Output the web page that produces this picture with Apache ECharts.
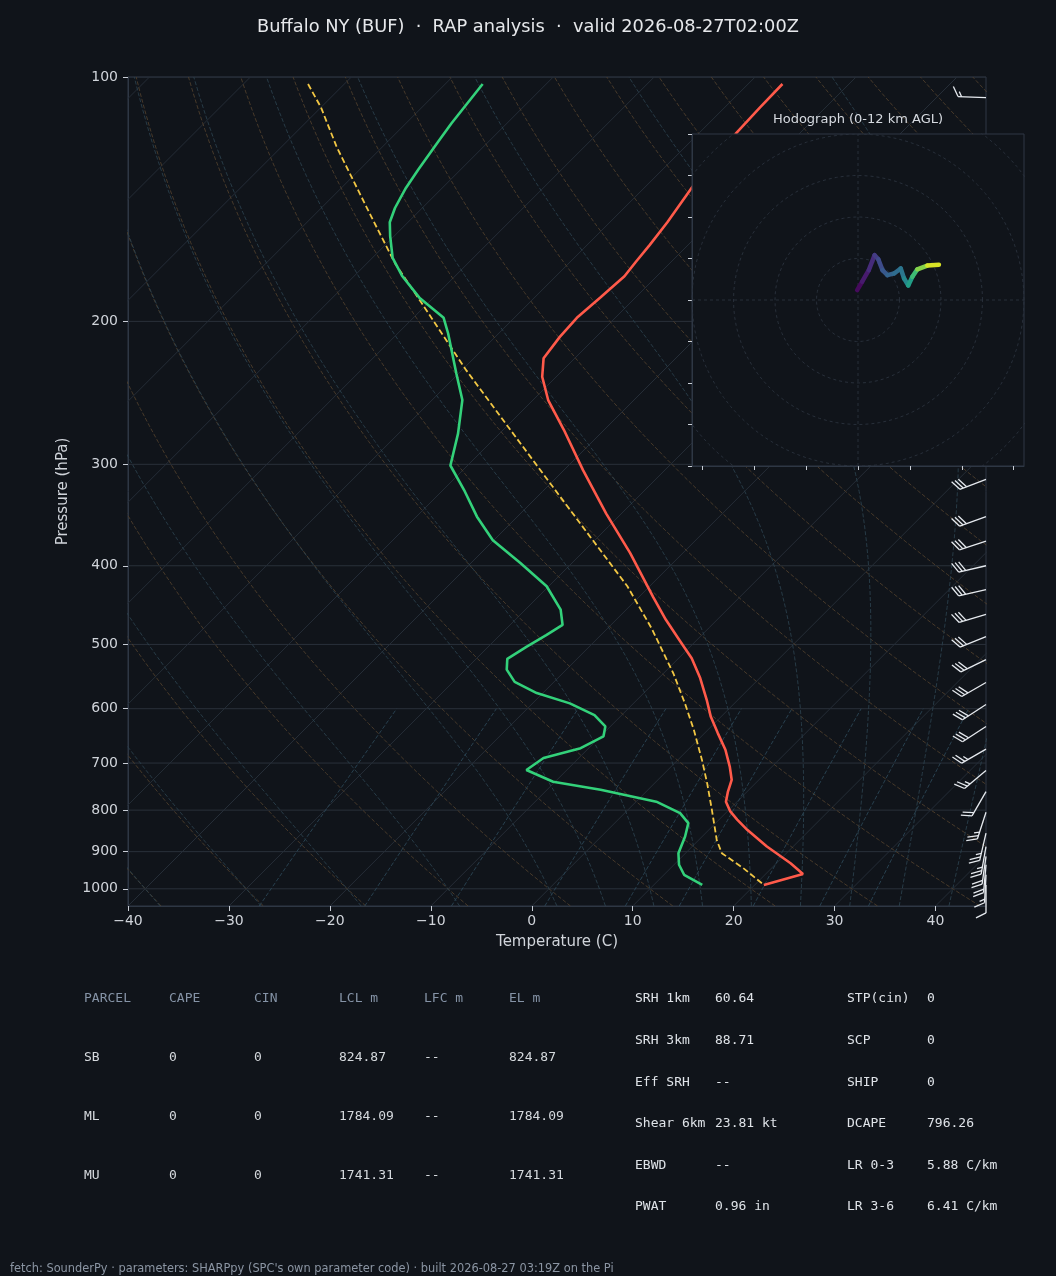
<!DOCTYPE html>
<html>
<head>
<meta charset="UTF-8">
<title>Skew-T - Buffalo NY (BUF)</title>
<script src="https://cdn.jsdelivr.net/npm/echarts@6/dist/echarts.min.js"></script>
<style>
  html, body { margin: 0; padding: 0; background: #10141a; }
  #main { width: 1056px; height: 1276px; }
</style>
</head>
<body>
<div id="main"></div>
<script>
// ---- sounding profile (hPa / degC) ----
const tempP = [102, 109, 118, 127, 137, 151, 161, 169, 176, 187, 198, 209, 222, 234, 250, 272, 305, 345, 386, 437,
               466, 494, 520, 550, 585, 614, 643, 674, 707, 734, 759, 781, 803, 822, 846, 887, 930, 959, 989];
const tempT = [-56.6, -56.5, -56.3, -56.0, -55.3, -54.3, -53.8, -53.5, -53.2, -53.5, -53.8, -53.6, -53.1, -51.4, -48.5, -44.0, -38.1, -31.5, -25.2, -18.6,
               -15.1, -11.7, -8.7, -5.9, -3.1, -1.0, 1.3, 3.7, 5.8, 7.3, 8.1, 8.9, 10.3, 11.8, 13.8, 17.4, 21.4, 23.7, 20.9];

const dewP = [102, 114, 120, 130, 137, 145, 151, 157, 167, 176, 187, 198, 207, 232, 250, 275, 301, 324, 348, 372,
              397, 424, 453, 473, 487, 503, 521, 537, 556, 574, 591, 611, 631, 649, 671, 690, 714, 738, 755, 781,
              807, 830, 862, 904, 934, 961, 989];
const dewT = [-86.3, -85.5, -85.0, -84.2, -83.6, -82.7, -81.8, -80.4, -78.0, -75.2, -71.4, -67.0, -65.0, -60.2, -57.0, -54.1, -51.7, -47.7, -44.0, -40.1,
              -35.1, -30.2, -26.5, -24.8, -25.4, -26.2, -26.9, -25.9, -23.9, -20.6, -16.3, -12.7, -10.5, -9.7, -10.8, -13.5, -14.0, -10.2, -4.7, 2.0,
              5.5, 7.3, 8.3, 9.3, 10.5, 12.0, 14.8];

const parcelP = [102, 109, 122, 134, 150, 170, 190, 230, 272, 320, 372, 424, 478, 543, 591, 637, 694, 741, 799, 871, 904, 943, 989];
const parcelT = [-103.6, -100.0, -94.5, -89.6, -83.7, -77.1, -70.6, -59.5, -49.3, -39.4, -30.2, -22.2, -15.6, -9.0, -4.9, -1.4, 2.4, 5.2, 8.3, 11.8, 13.6, 17.2, 20.9];

// wind barbs: pressure, direction (deg from), speed (kt)
const barbP   = [106, 313, 348, 373, 400, 428, 459, 489, 522, 557, 593, 631, 673, 715, 759, 805, 854, 887, 912, 934, 961, 989];
const barbDir = [272, 249, 250, 252, 257, 257, 253, 248, 244, 240, 237, 237, 240, 230, 210, 198, 193, 190, 188, 185, 183, 180];
const barbKt  = [15, 30, 30, 30, 30, 30, 30, 30, 30, 30, 30, 30, 25, 25, 20, 25, 25, 25, 20, 20, 15, 10];

// hodograph (u, v) with height km
const hodoU = [-0.2, 1.0, 2.6, 4.0, 4.9, 5.9, 7.1, 8.7, 10.3, 11.1, 12.1, 13.1, 14.3, 16.7, 19.5];
const hodoV = [2.4, 4.4, 7.2, 10.8, 9.8, 7.2, 6.0, 6.4, 7.6, 5.2, 3.5, 5.6, 7.4, 8.3, 8.5];
const hodoZ = [0, 0.6, 1.2, 1.8, 2.4, 3.0, 3.6, 4.0, 4.4, 5.0, 6.0, 7.4, 9.0, 10.6, 12.0];

// ticks
const pTicks = [100, 200, 300, 400, 500, 600, 700, 800, 900, 1000];
const tTicks = [-40, -30, -20, -10, 0, 10, 20, 30, 40];
const hodoXTicks = [-37.5, -25, -12.5, 0, 12.5, 25, 37.5];
const hodoRings = [10, 20, 30, 40, 50];
const mixRatios = [0.0004, 0.001, 0.002, 0.004, 0.007, 0.01, 0.016, 0.024, 0.032];
const moistStarts = [-40, -30, -20, -10, 0, 5, 10, 15, 20, 25, 30, 35, 40, 45];

// parameter table
const parcelHead = ['PARCEL', 'CAPE', 'CIN', 'LCL m', 'LFC m', 'EL m'];
const parcelRows = [
  ['SB', '0', '0', '824.87', '--', '824.87'],
  ['ML', '0', '0', '1784.09', '--', '1784.09'],
  ['MU', '0', '0', '1741.31', '--', '1741.31']
];
const paramsA = [['SRH 1km', '60.64'], ['SRH 3km', '88.71'], ['Eff SRH', '--'], ['Shear 6km', '23.81 kt'], ['EBWD', '--'], ['PWAT', '0.96 in']];
const paramsB = [['STP(cin)', '0'], ['SCP', '0'], ['SHIP', '0'], ['DCAPE', '796.26'], ['LR 0-3', '5.88 C/km'], ['LR 3-6', '6.41 C/km']];

const titleText = 'Buffalo NY (BUF)  \u00b7  RAP analysis  \u00b7  valid 2026-08-27T02:00Z';
const footerText = "fetch: SounderPy \u00b7 parameters: SHARPpy (SPC's own parameter code) \u00b7 built 2026-08-27 03:19Z on the Pi";

// ---- layout ----
const PMIN = 100, PMAX = 1050, TMIN = -40, TMAX = 45;
const GRID = { left: 128, top: 77, width: 858, height: 829 };
const INSET = { left: 692, top: 134, width: 332, height: 332 };
// 45 degree isotherms: degC shift per decade of pressure
const K = (GRID.height / Math.log10(PMAX / PMIN)) / (GRID.width / (TMAX - TMIN));
const skew = (t, p) => [t + K * Math.log10(PMAX / p), p];

const BG = '#10141a';
const FRAME = '#2e3744';
const TXT = '#d0d4da';
const FONT = '"DejaVu Sans", sans-serif';
const MONO = '"DejaVu Sans Mono", monospace';

// pressure levels for background curves
const pLevels = [];
for (let i = 0; i <= 50; i++) pLevels.push(PMAX * Math.pow(PMIN / PMAX, i / 50));

// thermodynamics for reference lines
const Rd = 287.04749, Cp = 1004.6662, Lv = 2.50084e6, EPS = 0.621957;
function satVap(tK) { return 6.112 * Math.exp(17.67 * (tK - 273.15) / (tK - 29.65)); }
function moistSlope(tK, p) {
  const es = satVap(tK);
  const rs = EPS * es / Math.max(p - es, 1e-3);
  return (Rd * tK + Lv * rs) / (Cp + Lv * Lv * rs * EPS / (Rd * tK * tK));
}
function moistT(t0, p) {
  let T = t0 + 273.15, lp = Math.log(1000);
  const n = 40, h = (Math.log(p) - lp) / n;
  for (let i = 0; i < n; i++) {
    const pp = Math.exp(lp);
    const k1 = moistSlope(T, pp);
    const k2 = moistSlope(T + h * k1 / 2, Math.exp(lp + h / 2));
    const k3 = moistSlope(T + h * k2 / 2, Math.exp(lp + h / 2));
    const k4 = moistSlope(T + h * k3, Math.exp(lp + h));
    T += h * (k1 + 2 * k2 + 2 * k3 + k4) / 6;
    lp += h;
  }
  return T - 273.15;
}
function dewFromMix(w, p) {
  const e = p * w / (EPS + w);
  const l = Math.log(e / 6.112);
  return 243.5 * l / (17.67 - l);
}

const VIRIDIS = ['#440154', '#482475', '#414487', '#355f8d', '#2a788e', '#21918c', '#22a884', '#44bf70', '#7ad151', '#bddf26', '#fde725'];
function viridis(f) {
  f = Math.max(0, Math.min(1, f));
  const x = f * (VIRIDIS.length - 1);
  const i = Math.min(Math.floor(x), VIRIDIS.length - 2);
  const t = x - i;
  const a = VIRIDIS[i], b = VIRIDIS[i + 1];
  const c = [1, 3, 5].map(k => Math.round(parseInt(a.substr(k, 2), 16) * (1 - t) + parseInt(b.substr(k, 2), 16) * t));
  return 'rgb(' + c.join(',') + ')';
}

const series = [];
function refLine(data, color, type, width, gi) {
  series.push({
    type: 'line', xAxisIndex: gi || 0, yAxisIndex: gi || 0, data,
    symbol: 'none', silent: true, clip: true, z: gi ? 11 : 1,
    lineStyle: { color, width, type }
  });
}

// isobars
pTicks.forEach(p => refLine([[TMIN, p], [TMAX, p]], '#29303a', 'solid', 1));
// isotherms
for (let t = -130; t <= 40; t += 10) refLine([skew(t, PMAX), skew(t, PMIN)], '#252d37', 'solid', 1);
// dry adiabats
for (let t0 = -40; t0 <= 240; t0 += 10) {
  refLine(pLevels.map(p => skew((t0 + 273.15) * Math.pow(p / 1000, Rd / Cp) - 273.15, p)), '#4e3e2d', [4, 2], 0.9);
}
// moist adiabats
moistStarts.forEach(t0 => {
  refLine(pLevels.map(p => skew(moistT(t0, p), p)), '#2a3f4c', [4, 2], 0.9);
});
// mixing ratio lines (surface to 600 hPa)
mixRatios.forEach(w => {
  const pts = [];
  for (let i = 0; i <= 12; i++) {
    const p = PMAX - (PMAX - 600) * i / 12;
    pts.push(skew(dewFromMix(w, p), p));
  }
  refLine(pts, '#2b4656', [4, 2], 0.9);
});

// profiles
series.push({
  name: 'Parcel', type: 'line', data: parcelP.map((p, i) => skew(parcelT[i], p)),
  symbol: 'none', z: 3, lineStyle: { color: '#f2c744', width: 1.8, type: [6, 3] }
});
series.push({
  name: 'Dewpoint', type: 'line', data: dewP.map((p, i) => skew(dewT[i], p)),
  symbol: 'none', z: 4, lineStyle: { color: '#33d17a', width: 2.6 }
});
series.push({
  name: 'Temperature', type: 'line', data: tempP.map((p, i) => skew(tempT[i], p)),
  symbol: 'none', z: 4, lineStyle: { color: '#ff5a4a', width: 2.6 }
});

// wind barbs on the right edge
series.push({
  name: 'Wind', type: 'custom', clip: false, z: 5, silent: true,
  data: barbP.map((p, i) => [TMAX, p, barbDir[i], barbKt[i]]),
  renderItem: function (params, api) {
    const base = api.coord([api.value(0), api.value(1)]);
    const dir = api.value(2) * Math.PI / 180;
    let kt = Math.round(api.value(3) / 5) * 5;
    const dx = Math.sin(dir), dy = -Math.cos(dir);
    const nx = -dy, ny = dx;
    const L = 28, H = 10, S = 3.6;
    const tip = [base[0] + dx * L, base[1] + dy * L];
    const style = { stroke: '#e6eaef', lineWidth: 1.3, fill: null };
    const children = [{ type: 'line', shape: { x1: base[0], y1: base[1], x2: tip[0], y2: tip[1] }, style }];
    const full = Math.floor(kt / 10);
    const half = (kt - full * 10) >= 5;
    let pos = 0;
    for (let i = 0; i < full; i++) {
      const sx = tip[0] - dx * pos, sy = tip[1] - dy * pos;
      children.push({ type: 'line', shape: { x1: sx, y1: sy, x2: sx + nx * H + dx * H * 0.5, y2: sy + ny * H + dy * H * 0.5 }, style });
      pos += S;
    }
    if (half) {
      if (pos === 0) pos = S * 1.5;
      const sx = tip[0] - dx * pos, sy = tip[1] - dy * pos;
      const h = H / 2;
      children.push({ type: 'line', shape: { x1: sx, y1: sy, x2: sx + nx * h + dx * h * 0.5, y2: sy + ny * h + dy * h * 0.5 }, style });
    }
    return { type: 'group', children };
  }
});

// hodograph inset
hodoRings.forEach(r => {
  const pts = [];
  for (let a = 0; a <= 360; a += 4) pts.push([r * Math.cos(a * Math.PI / 180), r * Math.sin(a * Math.PI / 180)]);
  refLine(pts, '#2a323d', [3, 3], 0.9, 1);
});
refLine([[-40, 0], [40, 0]], '#2a323d', [3, 3], 0.9, 1);
refLine([[0, -40], [0, 40]], '#2a323d', [3, 3], 0.9, 1);

const zTop = hodoZ[hodoZ.length - 1];
series.push({
  name: 'Hodograph', type: 'custom', xAxisIndex: 1, yAxisIndex: 1, z: 12, clip: true, silent: true,
  data: hodoU.slice(1).map((u, i) => [hodoU[i], hodoV[i], u, hodoV[i + 1], (hodoZ[i] + hodoZ[i + 1]) / 2]),
  encode: { x: [0, 2], y: [1, 3] },
  renderItem: function (params, api) {
    const a = api.coord([api.value(0), api.value(1)]);
    const b = api.coord([api.value(2), api.value(3)]);
    return {
      type: 'line', shape: { x1: a[0], y1: a[1], x2: b[0], y2: b[1] },
      style: { stroke: viridis(api.value(4) / zTop), lineWidth: 4.5, lineCap: 'round' }
    };
  }
});

// table + labels as graphic text
const graphics = [];
function txt(x, y, text, fill, font, align) {
  graphics.push({ type: 'text', x, y, z: 30, silent: true,
    style: { text, fill, font, align: align || 'left', verticalAlign: 'middle' } });
}
txt(858, 120, 'Hodograph (0-12 km AGL)', '#d6dae0', '13px ' + FONT, 'center');
const colX = [84, 169, 254, 339, 424, 509];
const rowY = [999, 1058, 1117, 1176];
parcelHead.forEach((h, j) => txt(colX[j], rowY[0], h, '#8593a6', '13px ' + MONO));
parcelRows.forEach((row, i) => row.forEach((v, j) => txt(colX[j], rowY[i + 1], v, '#d6dade', '13px ' + MONO)));
const pRowY = [999, 1041, 1083, 1124, 1166, 1207];
paramsA.forEach((r, i) => { txt(635, pRowY[i], r[0], '#dfe3e8', '13px ' + MONO); txt(715, pRowY[i], r[1], '#dfe3e8', '13px ' + MONO); });
paramsB.forEach((r, i) => { txt(847, pRowY[i], r[0], '#dfe3e8', '13px ' + MONO); txt(927, pRowY[i], r[1], '#dfe3e8', '13px ' + MONO); });
txt(10, 1269, footerText, '#8b95a3', '11.4px ' + FONT);

const minus = v => (v < 0 ? '\u2212' + (-v) : String(v));

const chart = echarts.init(document.getElementById('main'), null, { renderer: 'canvas' });
chart.setOption({
  animation: false,
  backgroundColor: BG,
  textStyle: { fontFamily: FONT },
  title: {
    text: titleText, left: 'center', top: 13,
    textStyle: { color: '#e6e8eb', fontSize: 17.8, fontWeight: 'normal', fontFamily: FONT }
  },
  grid: [
    { left: GRID.left, top: GRID.top, width: GRID.width, height: GRID.height, show: true, borderColor: FRAME, borderWidth: 1, backgroundColor: 'transparent' },
    { left: INSET.left, top: INSET.top, width: INSET.width, height: INSET.height, show: true, z: 10, borderColor: FRAME, borderWidth: 1, backgroundColor: BG }
  ],
  xAxis: [
    {
      gridIndex: 0, type: 'value', min: TMIN, max: TMAX, interval: 10,
      name: 'Temperature (C)', nameLocation: 'middle', nameGap: 29,
      nameTextStyle: { color: TXT, fontSize: 15 },
      axisLine: { show: true, onZero: false, lineStyle: { color: FRAME } },
      axisTick: { show: true, length: 5, lineStyle: { color: '#c9ced6' }, customValues: tTicks },
      axisLabel: { color: TXT, fontSize: 14, margin: 8, customValues: tTicks, formatter: minus },
      splitLine: { show: false }
    },
    {
      gridIndex: 1, type: 'value', min: -40, max: 40, z: 11,
      axisLine: { show: true, onZero: false, lineStyle: { color: FRAME } },
      axisTick: { show: true, length: 4, lineStyle: { color: '#c9ced6' }, customValues: hodoXTicks },
      axisLabel: { show: false }, splitLine: { show: false }
    }
  ],
  yAxis: [
    {
      gridIndex: 0, type: 'log', logBase: 10, min: PMIN, max: PMAX, inverse: true,
      name: 'Pressure (hPa)', nameLocation: 'middle', nameGap: 57,
      nameTextStyle: { color: TXT, fontSize: 15 },
      axisLine: { show: true, onZero: false, lineStyle: { color: FRAME } },
      axisTick: { show: true, length: 5, lineStyle: { color: '#c9ced6' }, customValues: pTicks },
      axisLabel: { color: TXT, fontSize: 14, margin: 10, customValues: pTicks, formatter: v => String(v) },
      splitLine: { show: false }, minorTick: { show: false }
    },
    {
      gridIndex: 1, type: 'value', min: -40, max: 40, interval: 10, z: 11,
      axisLine: { show: true, onZero: false, lineStyle: { color: FRAME } },
      axisTick: { show: true, length: 4, lineStyle: { color: '#c9ced6' } },
      axisLabel: { show: false }, splitLine: { show: false }
    }
  ],
  graphic: graphics,
  series
});
</script>
</body>
</html>
